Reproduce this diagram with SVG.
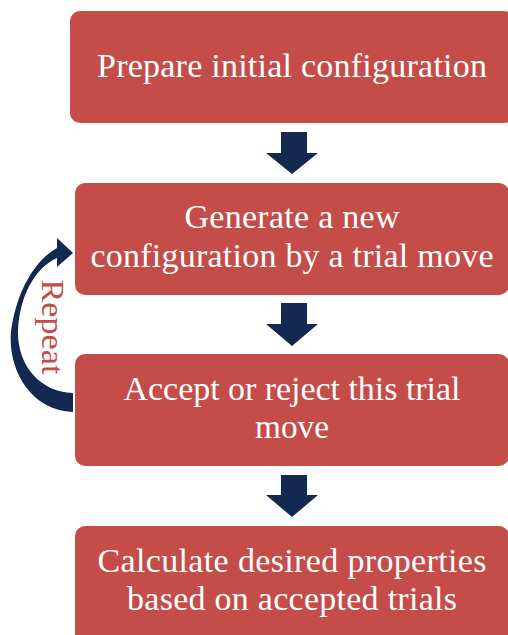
<svg xmlns="http://www.w3.org/2000/svg" width="508" height="635" viewBox="0 0 508 635">
<style>
.box{fill:#C44D49;}
.t{font-family:"Liberation Serif","DejaVu Serif",serif;font-size:34px;fill:#FFFFFF;text-anchor:middle;}
.arr{fill:#13294F;}
.rep{font-family:"Liberation Serif","DejaVu Serif",serif;font-size:31px;fill:#C44D49;text-anchor:middle;}
</style>
<rect width="508" height="635" fill="#FFFFFF"/>
<g id="connectors">
<path class="arr" d="M281,132 H307 V153 H318 L292,174 L266,153 H281 Z"/>
<path class="arr" d="M281,303 H307 V324 H318 L292,346 L266,324 H281 Z"/>
<path class="arr" d="M281,475 H307 V495 H318 L292,517 L266,495 H281 Z"/>
<path class="arr" d="M73,412 C25,410 5,360 12,325 C18,290 35,260 57,248 L57,238 L73,253 L57,267 L57,258 C35,268 20,295 18,330 C17,365 40,392 73,393 Z"/>
</g>
<g id="repeat-label">
<text class="rep" transform="translate(42,327) rotate(90)" textLength="95" lengthAdjust="spacingAndGlyphs">Repeat</text>
</g>
<g id="node1">
<rect class="box" x="70" y="11" width="444" height="112" rx="10"/>
<text class="t" x="292" y="77" textLength="390" lengthAdjust="spacing">Prepare initial configuration</text>
</g>
<g id="node2">
<rect class="box" x="75" y="183" width="434" height="112" rx="10"/>
<text class="t" x="292" y="228" textLength="215" lengthAdjust="spacing">Generate a new</text>
<text class="t" x="292" y="267" textLength="403" lengthAdjust="spacing">configuration by a trial move</text>
</g>
<g id="node3">
<rect class="box" x="75" y="354" width="434" height="112" rx="10"/>
<text class="t" x="292" y="400" textLength="337" lengthAdjust="spacing">Accept or reject this trial</text>
<text class="t" x="292" y="438" textLength="74" lengthAdjust="spacingAndGlyphs">move</text>
</g>
<g id="node4">
<rect class="box" x="75" y="526" width="434" height="130" rx="10"/>
<text class="t" x="292" y="572" textLength="389" lengthAdjust="spacing">Calculate desired properties</text>
<text class="t" x="292" y="610" textLength="330" lengthAdjust="spacing">based on accepted trials</text>
</g>
</svg>
